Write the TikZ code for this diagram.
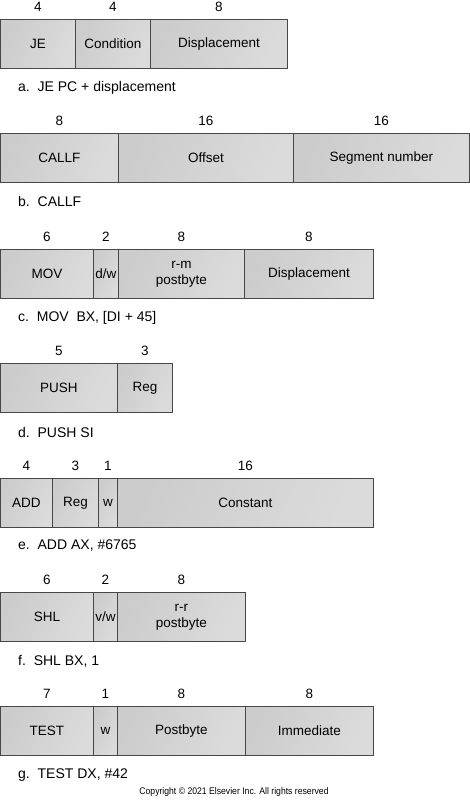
\documentclass[tikz,border=0pt]{standalone}
\usepackage{fontspec}
\setmainfont{Liberation Sans}
\begin{document}
\begin{tikzpicture}[x=1pt,y=-1pt,
  cell/.style={draw=black!72, line width=0.9pt, left color=gray!40, middle color=gray!9, right color=gray!28,
    shading angle=65, minimum height=49pt, inner sep=0pt, anchor=north west, align=center,
    font=\fontsize{13.5}{16}\selectfont},
  num/.style={inner sep=0pt, font=\fontsize{13.5}{16}\selectfont},
  caption/.style={inner sep=0pt, anchor=west, font=\fontsize{14}{16}\selectfont},
  copy/.style={inner sep=0pt, font=\fontsize{9.6}{11}\selectfont, xscale=0.9}]
\useasboundingbox (0,0) rectangle (470,800);
% a
\node[cell, minimum width=75pt]  (a1) at (0,19)   {JE};
\node[cell, minimum width=75pt]  (a2) at (75,19)  {Condition};
\node[cell, minimum width=137pt] (a3) at (150,19) {Displacement};
\node[num] (an1) at ([yshift=12pt]a1.north) {4};
\node[num] (an2) at ([yshift=12pt]a2.north) {4};
\node[num] (an3) at ([yshift=12pt]a3.north) {8};
\node[caption] (al) at (18,88) {a.\ \ JE PC + displacement};
% b
\node[cell, minimum width=118pt] (b1) at (0,133)   {CALLF};
\node[cell, minimum width=175pt] (b2) at (118,133) {Offset};
\node[cell, minimum width=176pt] (b3) at (293,133) {Segment number};
\node[num] (bn1) at ([yshift=12pt]b1.north) {8};
\node[num] (bn2) at ([yshift=12pt]b2.north) {16};
\node[num] (bn3) at ([yshift=12pt]b3.north) {16};
\node[caption] (bl) at (18,201) {b.\ \ CALLF};
% c
\node[cell, minimum width=93pt]  (c1) at (0,249)   {MOV};
\node[cell, minimum width=25pt]  (c2) at (93,249)  {d/w};
\node[cell, minimum width=126pt] (c3) at (118,249) {r-m\\postbyte};
\node[cell, minimum width=129pt] (c4) at (244,249) {Displacement};
\node[num] (cn1) at ([yshift=12pt]c1.north) {6};
\node[num] (cn2) at ([yshift=12pt]c2.north) {2};
\node[num] (cn3) at ([yshift=12pt]c3.north) {8};
\node[num] (cn4) at ([yshift=12pt]c4.north) {8};
\node[caption] (cl) at (18,318) {c.\ \ MOV\ \ BX, [DI + 45]};
% d
\node[cell, minimum width=117pt] (d1) at (0,363)   {PUSH};
\node[cell, minimum width=55pt]  (d2) at (117,363) {Reg};
\node[num] (dn1) at ([yshift=12pt]d1.north) {5};
\node[num] (dn2) at ([yshift=12pt]d2.north) {3};
\node[caption] (dl) at (18,432) {d.\ \ PUSH SI};
% e
\node[cell, minimum width=52pt]  (e1) at (0,478)   {ADD};
\node[cell, minimum width=46pt]  (e2) at (52,478)  {Reg};
\node[cell, minimum width=19pt]  (e3) at (98,478)  {w};
\node[cell, minimum width=256pt] (e4) at (117,478) {Constant};
\node[num] (en1) at ([yshift=12pt]e1.north) {4};
\node[num] (en2) at ([yshift=12pt]e2.north) {3};
\node[num] (en3) at ([yshift=12pt]e3.north) {1};
\node[num] (en4) at ([yshift=12pt]e4.north) {16};
\node[caption] (el) at (18,546) {e.\ \ ADD AX, \#6765};
% f
\node[cell, minimum width=93pt]  (f1) at (0,592)   {SHL};
\node[cell, minimum width=24pt]  (f2) at (93,592)  {v/w};
\node[cell, minimum width=128pt] (f3) at (117,592) {r-r\\postbyte};
\node[num] (fn1) at ([yshift=12pt]f1.north) {6};
\node[num] (fn2) at ([yshift=12pt]f2.north) {2};
\node[num] (fn3) at ([yshift=12pt]f3.north) {8};
\node[caption] (fl) at (18,661) {f.\ \ SHL BX, 1};
% g
\node[cell, minimum width=93pt]  (g1) at (0,706)   {TEST};
\node[cell, minimum width=24pt]  (g2) at (93,706)  {w};
\node[cell, minimum width=128pt] (g3) at (117,706) {Postbyte};
\node[cell, minimum width=128pt] (g4) at (245,706) {Immediate};
\node[num] (gn1) at ([yshift=12pt]g1.north) {7};
\node[num] (gn2) at ([yshift=12pt]g2.north) {1};
\node[num] (gn3) at ([yshift=12pt]g3.north) {8};
\node[num] (gn4) at ([yshift=12pt]g4.north) {8};
\node[caption] (gl) at (18,775) {g.\ \ TEST DX, \#42};
\node[copy] (cr) at (234,792) {Copyright © 2021 Elsevier Inc. All rights reserved};
\end{tikzpicture}
\end{document}
